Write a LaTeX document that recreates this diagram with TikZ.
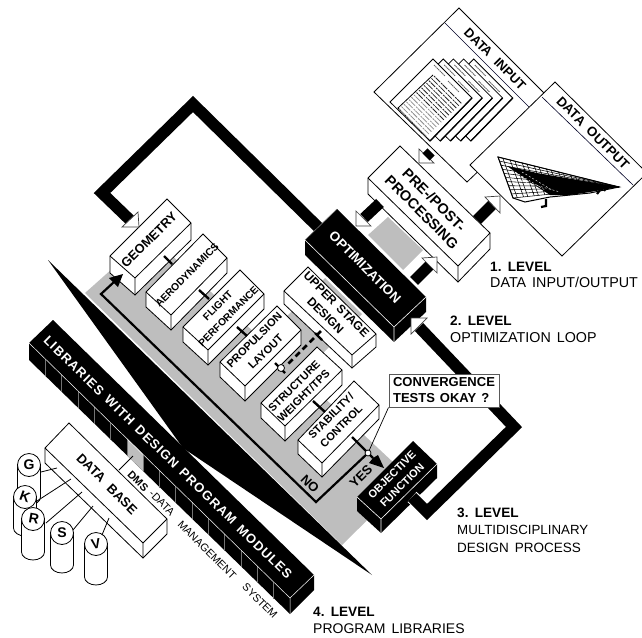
\documentclass[tikz,border=0pt]{standalone}
\usepackage{fontspec}
\setmainfont{Liberation Sans}
\usetikzlibrary{calc}
\definecolor{band}{HTML}{BEBEBE}
\newcommand\fs[2]{\fontsize{#1}{#2}\selectfont}
\newcommand\ws[1]{\spaceskip=#1\relax}
\newcommand\whitebox[5]{%
  \path[draw=black,fill=white,line width=.8pt,line join=miter] (#1)--(#2)--(#3)--($(#3)+(0,#5)$)--($(#4)+(0,#5)$)--($(#1)+(0,#5)$)--cycle;
  \draw[line width=.8pt] (#1)--(#4)--(#3) (#4)--($(#4)+(0,#5)$);}
\newcommand\blackbox[5]{%
  \path[fill=black] (#1)--(#2)--(#3)--($(#3)+(0,#5)$)--($(#4)+(0,#5)$)--($(#1)+(0,#5)$)--cycle;
  \draw[white,line width=.6pt] (#1)--(#4)--(#3) (#4)--($(#4)+(0,#5)$);}
\newcommand\headtri[3]{\path[draw=black!75,fill=white,line width=.7pt,line join=miter] (#1)--(#2)--(#3)--cycle;}
\tikzset{
  fat/.style={line width=11.5pt,line join=miter,line cap=butt},
  stub/.style={line width=2.4pt},
  boxlabel/.style={align=center,inner sep=0pt},
  level/.style={anchor=base west,inner sep=0pt,font=\fs{14}{16}},
  levelb/.style={anchor=base west,inner sep=0pt,font=\bfseries\fs{13.6}{16}},
  sheet/.style={draw=black,fill=white,line width=.8pt},
  cylinder letter/.style={font=\bfseries\fs{14}{15},inner sep=0pt},
  dmslabel/.style={rotate=-45,inner sep=0pt,font=\fs{10.8}{13}},
}
\begin{document}
\begin{tikzpicture}[x=1pt,y=-1pt]
\useasboundingbox (0,0) rectangle (642,637);
\clip (0,0) rectangle (642,637);
% ---- grey bands
\fill[band] (85,293)--(150,235)--(410,478)--(342,545)--cycle;
\fill[band] (325,278)--(362,314)--(262,414)--(225,378)--cycle;
\fill[band] (368,235)--(388,217)--(423,250)--(403,270)--cycle;
% ---- wedge
\fill[black] (48,260)--(372,575)--(183,448)--cycle;
% ---- libraries bar
\fill[black] (29,343)--(53,320)--(314,575)--(314,590)--(290,614)--(29,360)--cycle;
\fill[band] (127,438.5)--(143,454)--(143,471)--(127,455.5)--cycle;
\foreach \i in {1,...,15}{
  \pgfmathsetmacro\xx{29+\i*16.31}
  \pgfmathsetmacro\yya{343+\i*15.94}
  \draw[black!55,line width=.7pt] (\xx,\yya)--(\xx,\yya+17);
}
\draw[white,line width=.5pt] (29,343)--(290,598)--(314,575) (290,598)--(290,614);
\node[rotate=-44.3,inner sep=0pt,text=white] (libs) at (168,457.5) {\addfontfeature{LetterSpace=8}\bfseries\fs{13}{15}\ws{6.5pt}LIBRARIES WITH DESIGN PROGRAM MODULES};
% ---- data pages
\path[draw=black,fill=white,line width=.8pt] (459,8)--(552,101)--(467,182)--(374,92)--cycle;
\draw[black!85!blue,line width=.6pt] (445,23)--(529,107);
\node[rotate=-45,inner sep=0pt] (datain) at (495,59) {\bfseries\fs{13}{15}\ws{8pt}DATA INPUT};
\foreach \i in {4,3,2,1,0}{
  \begin{scope}[shift={(\i*10.2,0)}]
    \path[sheet] (433,59)--(472,98)--(430,141)--(390,102)--cycle;
    \draw[line width=1.3pt] (472,98)--(430,141);
    \draw[black!60,line width=.9pt,dash pattern=on 1.4pt off .6pt] (434,65)--(445,76) (448,81)--(459,92);
  \end{scope}
}
\draw[line width=.8pt] (433,75)--(398,108)--(430,141);
\foreach \k in {0,...,14}{
  \pgfmathsetmacro\t{\k/14}
  \pgfmathsetmacro\wd{\k<8?"black!85":"black!45"}
  \draw[\wd,line width=.8pt,dash pattern=on 2pt off .7pt on 6pt off 1.3pt] ($(434,76)!\t!(399,109)$)--++(28,28);
}
\path[draw=black,fill=white,line width=.8pt] (555,82)--(647,173)--(562,256)--(470,165)--cycle;
\draw[black!85!blue,line width=.6pt] (542,97)--(633,185);
\node[rotate=-45,inner sep=0pt] (dataout) at (593,133) {\bfseries\fs{13.3}{15}\ws{7pt}DATA OUTPUT};
% wing mesh
\coordinate (wa) at (498,157); \coordinate (wb) at (619,187); \coordinate (wc) at (513,198); \coordinate (wd) at (550,198);
\foreach \t in {0,.1,...,1.01}{
  \draw[line width=.55pt] ($(wa)!\t!(wc)$)--(wb);
  \draw[line width=.55pt] ($(wa)!\t!(wb)$)--($(wc)!\t!(wb)$);
}
\foreach \t in {.04,.14,...,.9}{\draw[line width=.55pt] ($(wa)!\t!(wb)$)--($(wc)!\t!(wb)$);}
\fill[black] (507,166)--(537,173)--(619,187)--(590,192)--(570,195)--(550,195)--(530,182)--cycle;
\draw[white,line width=.4pt,dash pattern=on 2pt off 2pt] (515,172)--(545,190) (522,172)--(552,190) (510,178)--(560,192);
\draw[line width=1pt] (wa)--(wc)--(525,202)--(550,197)--(590,193)--(wb)--cycle;
\draw[line width=2.2pt] (546,199)--(546,206)--(541,207) (600,190)--(597,194) (606,188)--(604,191);
% ---- big arrows
\coordinate (gIn) at (130,220); \coordinate (g1) at (102,193); \coordinate (g2) at (193,104); \coordinate (oOut) at (319,228);
\draw[fat] (oOut)--(g2)--(g1)--(gIn);
\coordinate (obOut) at (412,497); \coordinate (c1) at (427,512); \coordinate (c2) at (514,427); \coordinate (oIn) at (419,327);
% ---- boxes
\blackbox{305,240}{337,209}{426,297}{394,327}{15}
\draw[black!50,line width=.5pt] (305,240)--(337,209);
\node[rotate=-45,inner sep=0pt,text=white] (opt) at (365,267) {\bfseries\fs{13.4}{15}OPTIMIZATION};
\whitebox{368,178}{400,146}{490,233}{458,266}{16}
\node[rotate=-45,boxlabel,font=\bfseries\fs{14.5}{17.5}] (pre) at (428,206) {PRE-/POST-\\PROCESSING};
\whitebox{110,256}{167,199}{191,223}{135,278}{17}
\node[rotate=45,boxlabel,font=\bfseries\fs{12.8}{15}] (geo) at (149,240) {GEOMETRY};
\whitebox{146,292}{203,234}{227,258}{171,315}{15}
\node[rotate=45,boxlabel,font=\bfseries\fs{10.3}{12}] (aero) at (187,275) {AERODYNAMICS};
\whitebox{183,327}{240,270}{264,294}{208,350}{15}
\node[rotate=45,boxlabel,font=\bfseries\fs{10.2}{15}] (flight) at (223,311) {FLIGHT\\PERFORMANCE};
\whitebox{220,362}{277,306}{301,330}{245,386}{15}
\node[rotate=45,boxlabel,font=\bfseries\fs{11}{16}] (prop) at (260,346) {PROPULSION\\LAYOUT};
\whitebox{284,291}{308,267}{376,334}{352,355}{13}
\node[rotate=-45,font=\bfseries\fs{12}{15.5},align=center,inner sep=0pt] (upper) at (331,310) {\ws{5pt}UPPER STAGE\\DESIGN};
\whitebox{261,403}{317,347}{342,370}{285,426}{15}
\node[rotate=45,boxlabel,font=\bfseries\fs{11}{13.5}] (struct) at (299,391) {STRUCTURE\\WEIGHT/TPS};
\whitebox{298,440}{354,381}{379,405}{322,463}{14}
\node[rotate=45,boxlabel,font=\bfseries\fs{11}{14.5}] (stab) at (336,421) {STABILITY/\\CONTROL};
\blackbox{357,497}{413,441}{437,464}{381,519}{14}
\node[rotate=45,text=white,boxlabel,font=\bfseries\fs{11}{14.5}] (obj) at (397,480) {OBJECTIVE\\FUNCTION};
% ---- objective to optimization arrow
\draw[white,line width=13.5pt] (obOut)--(420,504);
\draw[fat] (obOut)--(c1)--(c2)--(oIn);
% ---- arrow heads of big arrows
\headtri{122,227}{138,212}{139,227}
\headtri{427,318}{411,334}{411,318}
% pre/post arrows
\coordinate (p1) at (380,203); \coordinate (p2) at (364,218);
\draw[line width=11pt] (p1)--(p2);
\headtri{356,211}{371,226}{356,226}
\coordinate (p3) at (414,281); \coordinate (p4) at (430,265);
\draw[line width=11pt] (p3)--(p4);
\headtri{422,258}{437,257}{437,273}
\coordinate (p5) at (477,220); \coordinate (p6) at (493,204);
\draw[line width=11pt] (p5)--(p6);
\headtri{485,197}{500,213}{500,196}
\coordinate (p7) at (431,152); \coordinate (p8) at (426,157);
\headtri{419,149}{434,163}{419,163}
\draw[line width=10pt] (p7)--(p8);
% ---- short links
\draw[stub] (164,256)--(172,264);
\draw[stub] (199,290)--(209,299);
\draw[stub] (237,327)--(247,336);
\draw[stub] (275,363)--(285,373);
\draw[stub] (313,401)--(325,412);
\coordinate (u1) at (321,331); \coordinate (u2) at (286,366);
\draw[line width=2.6pt,dash pattern=on 6pt off 4pt] (u1)--(u2);
\draw[stub] (315,333)--(322,340);
\draw[black,fill=white,line width=.8pt] (281,368) circle (3.5);
% ---- decision lines
\coordinate (fork) at (368,453); \coordinate (fb1) at (316,502); \coordinate (fb2) at (101,294); \coordinate (fb3) at (114,282);
\draw[line width=2.2pt,line join=miter] (fork)--(fb1)--(fb2)--(fb3);
\path[fill=black] (123,274)--(109,278)--(113,282)--(118,287)--cycle;
\draw[line width=2.2pt] (352,437)--(373,458);
\path[fill=black] (384,468)--(369,463)--(373,458)--(378,455)--cycle;
\node[rotate=-45,inner sep=0pt] (no) at (310,484) {\bfseries\fs{13}{14}NO};
\node[rotate=45,inner sep=0pt] (yes) at (361,476) {\bfseries\fs{13}{14}YES};
\node[draw=black!65,fill=white,line width=1pt,minimum width=110pt,minimum height=33pt,inner sep=0pt,align=left,font=\bfseries\fs{13}{16}] (conv) at (444,390.5) {\ws{5pt}CONVERGENCE\\\ws{5pt}TESTS OKAY ?};
\draw[line width=.7pt] (conv.south west)--(fork);
\draw[black,fill=white,line width=.8pt] (fork) circle (3);
% ---- data base
\foreach \cx/\cy/\bot in {29/465/505, 25/497/536, 33/519/560, 62/533/573, 96/544/585}{
  \path[draw=black,fill=white,line width=.8pt] (\cx-11.5,\cy)--(\cx-11.5,\bot-8) arc[start angle=180,end angle=0,x radius=11.5,y radius=8]--(\cx+11.5,\cy)--cycle;
  \draw[black,fill=white,line width=.8pt] (\cx,\cy) circle (11.5);
}
\node[cylinder letter] (cg) at (29,465) {G};
\node[cylinder letter,rotate=-20] (ck) at (25,497) {K};
\node[cylinder letter,rotate=-10] (cr) at (34,519) {R};
\node[cylinder letter] (cs) at (62,533) {S};
\node[cylinder letter,rotate=10] (cv) at (96,544) {V};
\whitebox{45,448}{69,423}{167,519}{143,543}{15}
\node[rotate=-45,inner sep=0pt] (db) at (107,484) {\bfseries\fs{13.2}{15}\ws{8pt}DATA BASE};
\draw[line width=.8pt] (41,472)--(57,468);
\draw[line width=.8pt] (37,501)--(71,479);
\draw[line width=.8pt] (46,523)--(82,492);
\draw[line width=.8pt] (73,530)--(93,506);
\draw[line width=.8pt] (102,535)--(109,518);
\draw[line width=.8pt] (119,470)--(133,456);
\node[rotate=-45,inner sep=0pt] (dms) at (138,481) {\bfseries\fs{10.8}{12}DMS};
\node[dmslabel] (dmsb) at (162,503) {-DATA};
\node[dmslabel] (dmsc) at (207,550) {MANAGEMENT};
\node[dmslabel] (dmsd) at (260,601) {SYSTEM};
% ---- level labels
\node[levelb] (l1) at (490,271) {\ws{5pt}1. LEVEL};
\node[level,font=\fs{14.3}{16}] (l1b) at (490,287) {\ws{6pt}DATA INPUT/OUTPUT};
\node[levelb] (l2) at (450,325) {\ws{5pt}2. LEVEL};
\node[level,font=\fs{14.3}{16}] (l2b) at (450,342) {\ws{6pt}OPTIMIZATION LOOP};
\node[levelb] (l3) at (457,517) {\ws{5pt}3. LEVEL};
\node[level,font=\fs{13.3}{16}] (l3b) at (457,534) {MULTIDISCIPLINARY};
\node[level,font=\fs{13.5}{16}] (l3c) at (457,552) {\ws{6pt}DESIGN PROCESS};
\node[levelb] (l4) at (313,616) {\ws{5pt}4. LEVEL};
\node[level] (l4b) at (313,633) {\ws{6pt}PROGRAM LIBRARIES};
\end{tikzpicture}
\end{document}
